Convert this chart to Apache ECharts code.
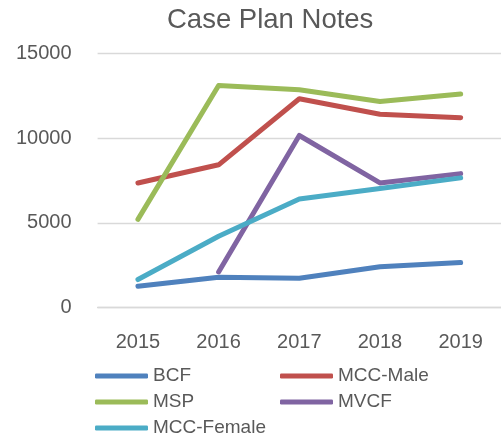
<!DOCTYPE html>
<html>
<head>
<meta charset="utf-8">
<script src="https://cdn.jsdelivr.net/npm/echarts@6/dist/echarts.min.js"></script>
<style>
    html, body { margin: 0; padding: 0; background: #fff; }
    #chart { width: 501px; height: 439px; }
</style>
</head>
<body>
<div id="chart"></div>
<script>
var yearAry = ['2015', '2016', '2017', '2018', '2019'];
var bcfAry = [1250, 1790, 1730, 2400, 2650];
var mccMaleAry = [7350, 8420, 12320, 11400, 11200];
var mspAry = [5200, 13100, 12850, 12150, 12600];
var mvcfAry = [null, 2100, 10150, 7350, 7900];
var mccFemaleAry = [1650, 4200, 6400, 7020, 7650];

var chartDom = document.getElementById('chart');
var myChart = echarts.init(chartDom);

function lineSeries(name, dataAry, color) {
    return {
        name: name,
        type: 'line',
        data: dataAry,
        symbol: 'none',
        lineStyle: {
            color: color,
            width: 5,
            cap: 'round',
            join: 'round'
        },
        itemStyle: { color: color }
    };
}

var option = {
    animation: false,
    title: {
        text: 'Case Plan Notes',
        left: 162,
        top: 1,
        textStyle: {
            fontFamily: 'Liberation Sans',
            fontSize: 27.5,
            fontWeight: 'normal',
            color: '#595959'
        }
    },
    grid: {
        left: 97.6,
        right: -6,
        top: 53.3,
        bottom: 131.5
    },
    xAxis: {
        type: 'category',
        data: yearAry,
        boundaryGap: true,
        axisLine: { show: true, lineStyle: { color: '#d9d9d9', width: 1.3 } },
        axisTick: { show: false },
        axisLabel: {
            margin: 25,
            fontFamily: 'Liberation Sans',
            fontSize: 20,
            color: '#595959'
        }
    },
    yAxis: {
        type: 'value',
        min: 0,
        max: 15000,
        interval: 5000,
        axisLine: { show: false },
        axisTick: { show: false },
        splitLine: { lineStyle: { color: '#d9d9d9', width: 1.3 } },
        axisLabel: {
            margin: 26,
            fontFamily: 'Liberation Sans',
            fontSize: 20,
            color: '#595959',
            formatter: function (val) {
                return String(val);
            }
        }
    },
    legend: {
        left: 90,
        top: 358,
        width: 420,
        icon: 'roundRect',
        itemWidth: 53,
        itemHeight: 5,
        itemGap: 0,
        textStyle: {
            fontFamily: 'Liberation Sans',
            fontSize: 19,
            color: '#595959',
            lineHeight: 26,
            rich: {
                n: { width: 127, fontFamily: 'Liberation Sans', fontSize: 19, color: '#595959', lineHeight: 26 }
            }
        },
        formatter: function (name) {
            return '{n|' + name + '}';
        },
        data: ['BCF', 'MCC-Male', 'MSP', 'MVCF', 'MCC-Female']
    },
    series: [
        lineSeries('BCF', bcfAry, '#4f81bd'),
        lineSeries('MCC-Male', mccMaleAry, '#c0504d'),
        lineSeries('MSP', mspAry, '#9bbb59'),
        lineSeries('MVCF', mvcfAry, '#8064a2'),
        lineSeries('MCC-Female', mccFemaleAry, '#4bacc6')
    ]
};

myChart.setOption(option);
</script>
</body>
</html>
